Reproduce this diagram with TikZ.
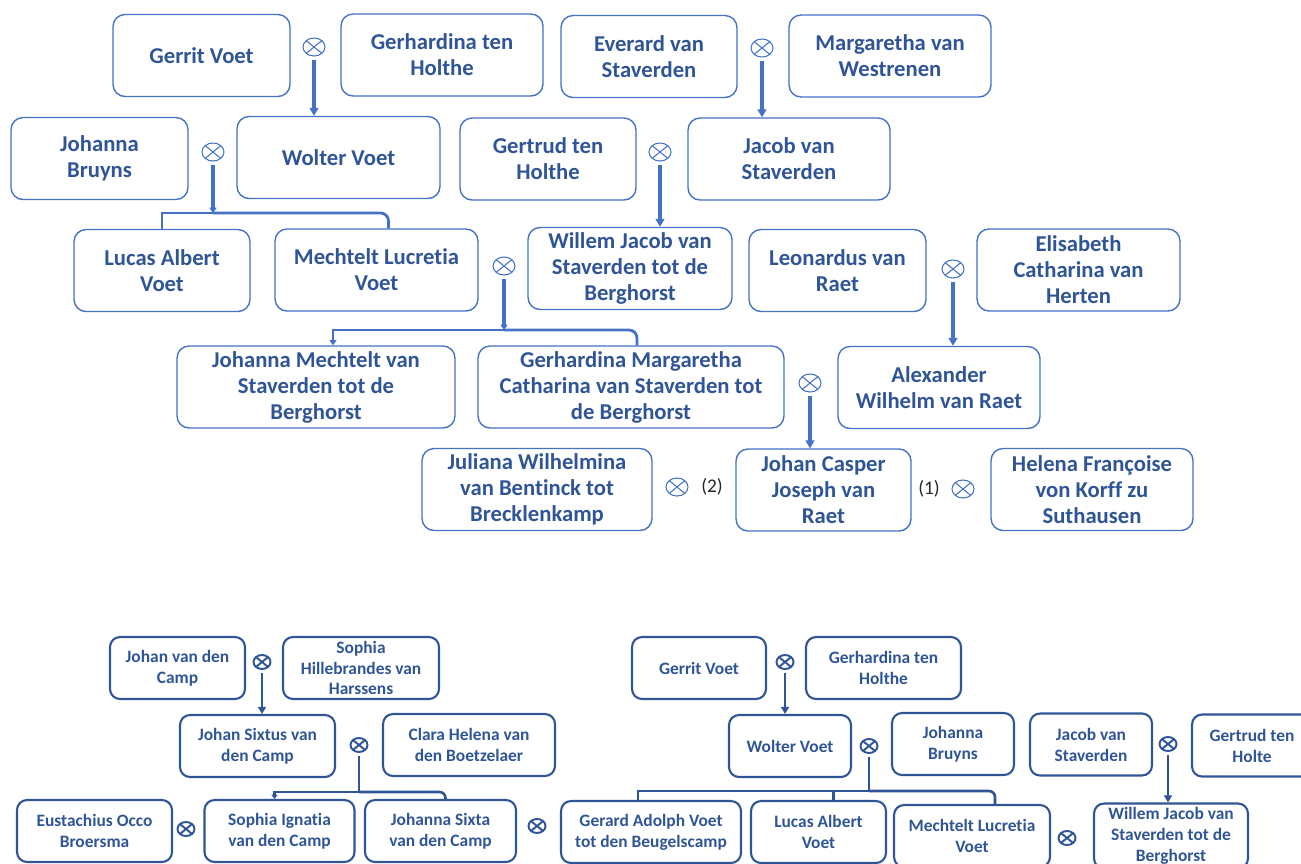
\documentclass[tikz,border=0pt]{standalone}
\usepackage{fontspec}
\setmainfont{Carlito}[Ligatures=NoCommon]
\usetikzlibrary{shapes.geometric,arrows.meta}
\definecolor{namecol}{RGB}{47,85,151}
\definecolor{linecol}{RGB}{68,114,196}
\begin{document}
\begin{tikzpicture}[x=0.02cm,y=-0.02cm,>={Triangle[length=4.5pt,width=5pt]}]
	\tikzstyle{person}=[rectangle,rounded corners=0.24cm,draw=linecol,line width=0.8pt,text=namecol,font=\fontsize{12.9}{14.8}\selectfont\bfseries,align=center,minimum height=1.64cm,inner sep=1pt]
	\tikzstyle{small}=[rectangle,rounded corners=0.2cm,draw=namecol,line width=1.2pt,text=namecol,font=\fontsize{9.9}{11.9}\selectfont\bfseries,align=center,minimum height=1.24cm,inner sep=1pt]
	\tikzstyle{wed}=[ellipse,draw=linecol,line width=0.6pt,minimum width=0.44cm,minimum height=0.36cm,inner sep=0pt,path picture={\draw[linecol,line width=0.6pt] (path picture bounding box.north west) -- (path picture bounding box.south east) (path picture bounding box.north east) -- (path picture bounding box.south west);}]
	\tikzstyle{swed}=[wed,draw=namecol,line width=1.1pt,minimum width=0.34cm,minimum height=0.28cm,path picture={\draw[namecol,line width=1.1pt] (path picture bounding box.north west) -- (path picture bounding box.south east) (path picture bounding box.north east) -- (path picture bounding box.south west);}]
	\tikzstyle{edge}=[draw=linecol,line width=1.8pt]
	\tikzstyle{sedge}=[draw=namecol,line width=1.5pt]
	\tikzstyle{tag}=[text=black!85,font=\fontsize{11}{13}\selectfont,inner sep=1pt]

	\useasboundingbox (0,0) rectangle (1301,863);
	\clip (0,0) rectangle (1301,863);

	\node [person,minimum width=3.54cm] (gerrit) at (201.5,55.5) {Gerrit Voet};
	\node [person,minimum width=4.04cm] (gerhardina) at (442,55) {Gerhardina ten\\Holthe};
	\node [person,minimum width=3.52cm] (everard) at (649,56.5) {Everard van\\Staverden};
	\node [person,minimum width=4.04cm] (margaretha) at (890,56) {Margaretha van\\Westrenen};
	\node [person,minimum width=3.54cm] (johanna) at (99.5,158.5) {Johanna\\Bruyns};
	\node [person,minimum width=4.06cm] (wolter) at (338.5,157.5) {Wolter Voet};
	\node [person,minimum width=3.52cm] (gertrud) at (548,159) {Gertrud ten\\Holthe};
	\node [person,minimum width=4.04cm] (jacob) at (789,159) {Jacob van\\Staverden};
	\node [person,minimum width=3.52cm] (lucas) at (162,270.5) {Lucas Albert\\Voet};
	\node [person,minimum width=4.06cm] (mechtelt) at (376.5,270) {Mechtelt Lucretia\\Voet};
	\node [person,minimum width=4.08cm] (willem) at (630,268.5) {Willem Jacob van\\Staverden tot de\\Berghorst};
	\node [person,minimum width=3.54cm] (leonardus) at (837.5,270.5) {Leonardus van\\Raet};
	\node [person,minimum width=4.06cm] (elisabeth) at (1078.5,270) {Elisabeth\\Catharina van\\Herten};
	\node [person,minimum width=5.56cm] (johmech) at (316,387) {Johanna Mechtelt van\\Staverden tot de\\Berghorst};
	\node [person,minimum width=6.12cm] (gerhmarg) at (631,387) {Gerhardina Margaretha\\Catharina van Staverden tot\\de Berghorst};
	\node [person,minimum width=4.04cm] (alexander) at (939,387.5) {Alexander\\Wilhelm van Raet};
	\node [person,minimum width=4.6cm] (juliana) at (537,489.5) {Juliana Wilhelmina\\van Bentinck tot\\Brecklenkamp};
	\node [person,minimum width=3.5cm] (casper) at (823.5,490) {Johan Casper\\Joseph van\\Raet};
	\node [person,minimum width=4.04cm] (helena) at (1092,489.5) {Helena Françoise\\von Korff zu\\Suthausen};

	\node [wed] (m1) at (314,47) {};
	\node [wed] (m2) at (762,48) {};
	\node [wed] (m3) at (213,152) {};
	\node [wed] (m4) at (660,152) {};
	\node [wed] (m5) at (504,266) {};
	\node [wed] (m6) at (953,269) {};
	\node [wed] (m7) at (810,383) {};
	\node [wed] (m8) at (677,487) {};
	\node [wed] (m9) at (963,489) {};
	\node [tag] (t2) at (712,487) {(2)};
	\node [tag] (t1) at (929,489) {(1)};

	\coordinate (b3) at (213,213);
	\coordinate (b5) at (504,330);

	\path[edge,->,shorten <=2pt] (m1) -- (m1 |- wolter.north);
	\path[edge,->,shorten <=2pt] (m2) -- (m2 |- jacob.north);
	\path[edge,->,shorten <=2pt] (m4) -- (m4 |- willem.north);
	\path[edge,->,shorten <=2pt] (m6) -- (m6 |- alexander.north);
	\path[edge,->,shorten <=2pt] (m7) -- (m7 |- casper.north);
	\path[edge,->,>={Triangle[length=3pt,width=4pt]},shorten <=2pt] (m3) -- (b3);
	\path[edge,line width=1.6pt] (b3) -| (lucas);
	\path[edge,line width=1.6pt,rounded corners=0.16cm] (b3) -| ([xshift=0.24cm]mechtelt.north);
	\path[edge,->,>={Triangle[length=3pt,width=4pt]},shorten <=2pt] (m5) -- (b5);
	\path[edge,line width=1.6pt,->,>={Triangle[length=3pt,width=4pt]}] (b5) -| ([xshift=0.34cm]johmech.north);
	\path[edge,line width=1.6pt,rounded corners=0.16cm] (b5) -| ([xshift=0.12cm]gerhmarg.north);

	\node [small,minimum width=2.7cm] (jcamp) at (177.5,668) {Johan van den\\Camp};
	\node [small,minimum width=3.12cm] (sophiah) at (361,668) {Sophia\\Hillebrandes van\\Harssens};
	\node [small,minimum width=3.1cm] (sixtus) at (257.5,746) {Johan Sixtus van\\den Camp};
	\node [small,minimum width=3.44cm] (clara) at (469,745) {Clara Helena van\\den Boetzelaer};
	\node [small,minimum width=3.1cm] (eustachius) at (94.5,831) {Eustachius Occo\\Broersma};
	\node [small,minimum width=3.0cm] (ignatia) at (279.5,831) {Sophia Ignatia\\van den Camp};
	\node [small,minimum width=3.02cm] (jsixta) at (440.5,831) {Johanna Sixta\\van den Camp};

	\node [small,minimum width=2.68cm] (gerrit2) at (699,668) {Gerrit Voet};
	\node [small,minimum width=3.1cm] (gerhardina2) at (883.5,668) {Gerhardina ten\\Holthe};
	\node [small,minimum width=2.44cm] (wolter2) at (790,746) {Wolter Voet};
	\node [small,minimum width=2.44cm] (johanna2) at (953,744) {Johanna\\Bruyns};
	\node [small,minimum width=2.44cm] (jacob2) at (1091,744.5) {Jacob van\\Staverden};
	\node [small,minimum width=2.4cm] (gertrud2) at (1252,745.5) {Gertrud ten\\Holte};
	\node [small,minimum width=3.6cm] (gerard) at (651,832) {Gerard Adolph Voet\\tot den Beugelscamp};
	\node [small,minimum width=2.7cm] (lucas2) at (818.5,832) {Lucas Albert\\Voet};
	\node [small,minimum width=3.12cm] (mechtelt2) at (972,836) {Mechtelt Lucretia\\Voet};
	\node [small,minimum width=3.08cm,minimum height=1.3cm] (willem2) at (1171,836) {Willem Jacob van\\Staverden tot de\\Berghorst};

	\node [swed] (mb1) at (262,662) {};
	\node [swed] (mb2) at (359,745) {};
	\node [swed] (mb3) at (186,829) {};
	\node [swed] (mb4) at (537,826) {};
	\node [swed] (mb5) at (785,662) {};
	\node [swed] (mb6) at (869,746) {};
	\node [swed] (mb7) at (1168,744) {};
	\node [swed] (mb8) at (1067,838) {};

	\coordinate (c2) at (359,792);
	\coordinate (c6) at (869,791);

	\path[sedge,->,>={Triangle[length=4pt,width=4.5pt]},shorten <=2pt] (mb1) -- (mb1 |- sixtus.north);
	\path[sedge,->,>={Triangle[length=4pt,width=4.5pt]},shorten <=2pt] (mb5) -- (mb5 |- wolter2.north);
	\path[sedge,->,>={Triangle[length=4pt,width=4.5pt]},shorten <=2pt] (mb7) -- (mb7 |- willem2.north);
	\path[sedge,shorten <=2pt] (mb2) -- (c2);
	\path[sedge,->,>={Triangle[length=2.5pt,width=3.5pt]}] (c2) -| ([xshift=-0.1cm]ignatia.north);
	\path[sedge,rounded corners=0.12cm] (c2) -| ([xshift=0.1cm]jsixta.north);
	\path[sedge,shorten <=2pt] (mb6) -- (c6);
	\path[sedge] (c6) -| ([xshift=-0.26cm]gerard.north);
	\path[sedge] (c6) -| ([xshift=0.3cm]lucas2.north);
	\path[sedge,rounded corners=0.12cm] (c6) -| ([xshift=0.46cm]mechtelt2.north);
\end{tikzpicture}
\end{document}
